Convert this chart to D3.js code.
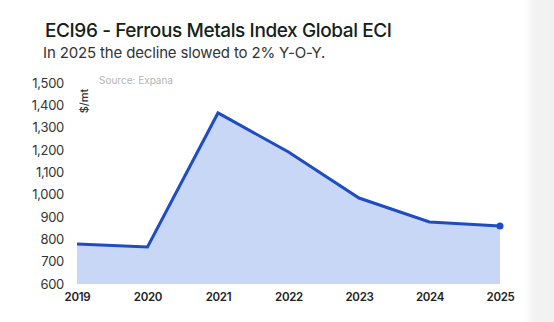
<!DOCTYPE html>
<html>
<head>
<meta charset="utf-8">
<script src="https://cdn.jsdelivr.net/npm/d3@7"></script>
<style>
  html, body { margin: 0; padding: 0; background: #fff; }
  svg { display: block; }
</style>
</head>
<body>
<svg id="chart" width="554" height="322"></svg>
<script>
// Ferrous Metals Index, annual values in $/mt
const years = [2019, 2020, 2021, 2022, 2023, 2024, 2025];
const values = [779, 766, 1366, 1191, 985, 878, 860];
const yTicks = [600, 700, 800, 900, 1000, 1100, 1200, 1300, 1400, 1500];

const svg = d3.select("#chart");
const W = 554, H = 322;

// light panel edge on the right
const grad = svg.append("defs").append("linearGradient")
  .attr("id", "edge").attr("x1", "0").attr("x2", "1");
grad.append("stop").attr("offset", "0").attr("stop-color", "#ffffff");
grad.append("stop").attr("offset", "0.35").attr("stop-color", "#f3f3f3");
grad.append("stop").attr("offset", "1").attr("stop-color", "#f1f1f1");
svg.append("rect").attr("x", 524).attr("y", 0).attr("width", 30).attr("height", H)
  .attr("fill", "url(#edge)");

// titles
svg.append("text").attr("x", 45).attr("y", 37)
  .attr("font-family", "Inter, 'Noto Sans', sans-serif")
  .attr("font-size", 19).attr("font-weight", 500)
  .attr("fill", "#132219").attr("letter-spacing", "-0.4")
  .text("ECI96 - Ferrous Metals Index Global ECI");
svg.append("text").attr("x", 43).attr("y", 58)
  .attr("font-family", "Inter, 'Noto Sans', sans-serif")
  .attr("font-size", 15).attr("font-weight", 400)
  .attr("fill", "#333").attr("letter-spacing", "-0.15")
  .text("In 2025 the decline slowed to 2% Y-O-Y.");

const x = d3.scalePoint().domain(years).range([77, 500]);
const y = d3.scaleLinear().domain([600, 1500]).range([284, 83]);

const data = years.map((yr, i) => ({ yr, v: values[i] }));

// area + line
const area = d3.area().x(d => x(d.yr)).y0(y(600)).y1(d => y(d.v));
const line = d3.line().x(d => x(d.yr)).y(d => y(d.v));

svg.append("path").datum(data).attr("d", area).attr("fill", "#c8d7f6");
svg.append("path").datum(data).attr("d", line)
  .attr("fill", "none").attr("stroke", "#1f4cc4").attr("stroke-width", 3)
  .attr("stroke-linejoin", "miter");

const last = data[data.length - 1];
svg.append("circle").attr("cx", x(last.yr)).attr("cy", y(last.v)).attr("r", 3.5)
  .attr("fill", "#1f4cc4");

// y axis labels
const yAxis = d3.axisLeft(y).tickValues(yTicks).tickSize(0).tickPadding(0)
  .tickFormat(d3.format(","));
const yg = svg.append("g").attr("transform", "translate(64,0)").call(yAxis);
yg.select(".domain").remove();
yg.selectAll("text")
  .attr("font-family", "Inter, 'Noto Sans', sans-serif")
  .attr("font-size", 13).attr("fill", "#333").attr("letter-spacing", "-0.3");

// x axis labels
const xAxis = d3.axisBottom(x).tickSize(0).tickPadding(0).tickFormat(d3.format("d"));
const xg = svg.append("g").attr("transform", "translate(0,293)").call(xAxis);
xg.select(".domain").remove();
xg.selectAll("text")
  .attr("font-family", "Inter, 'Noto Sans', sans-serif")
  .attr("font-size", 11.5).attr("font-weight", 600).attr("fill", "#222")
  .attr("letter-spacing", "-0.3");

// unit label
svg.append("text")
  .attr("transform", "translate(88,101) rotate(-90)")
  .attr("text-anchor", "middle")
  .attr("font-family", "Inter, 'Noto Sans', sans-serif")
  .attr("font-size", 11).attr("font-weight", 500).attr("fill", "#333")
  .text("$/mt");

// source note
svg.append("text").attr("x", 99).attr("y", 84)
  .attr("font-family", "Inter, 'Noto Sans', sans-serif")
  .attr("font-size", 10).attr("fill", "#b4b4b4")
  .text("Source: Expana");
</script>
</body>
</html>
